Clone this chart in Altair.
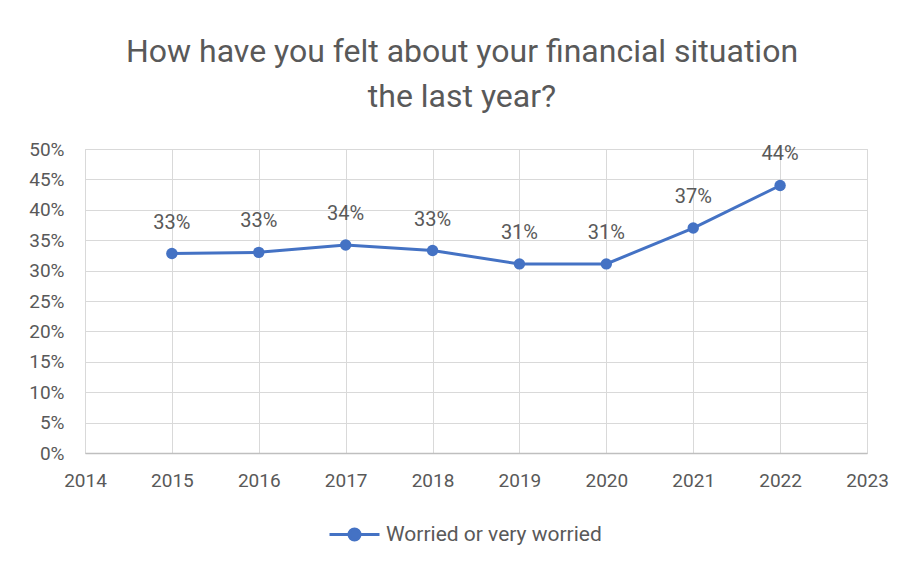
import altair as alt
import pandas as pd

years = [2015, 2016, 2017, 2018, 2019, 2020, 2021, 2022]
values = [0.328, 0.330, 0.342, 0.333, 0.311, 0.311, 0.370, 0.440]
series_name = "Worried or very worried"
title_lines = ["How have you felt about your financial situation", "the last year?"]
x_ticks = [2014, 2015, 2016, 2017, 2018, 2019, 2020, 2021, 2022, 2023]
y_ticks = [0, 0.05, 0.10, 0.15, 0.20, 0.25, 0.30, 0.35, 0.40, 0.45, 0.50]

df = pd.DataFrame({"year": years, "value": values, "series": [series_name] * len(years)})

BLUE = "#4472C4"
GREY = "#595959"
FONT = "Roboto"

x = alt.X("year:Q", scale=alt.Scale(domain=[2014, 2023], nice=False, zero=False),
          axis=alt.Axis(title=None, values=x_ticks, format="d", labelOverlap=False,
                        labelFlush=False, labelBound=False,
                        grid=True, gridColor="#D9D9D9", ticks=False, domainColor="#BFBFBF",
                        domainWidth=1.5, labelPadding=18, labelFontSize=19, labelColor=GREY,
                        labelFont=FONT))
y = alt.Y("value:Q", scale=alt.Scale(domain=[0, 0.5], nice=False),
          axis=alt.Axis(title=None, values=y_ticks, format=".0%", labelOverlap=False,
                        grid=True, gridColor="#D9D9D9", ticks=False, domain=False,
                        labelPadding=21, labelFontSize=19, labelColor=GREY, labelFont=FONT))

base = alt.Chart(df)

line = base.mark_line(color=BLUE, strokeWidth=3).encode(x=x, y=y)

points = base.mark_point(filled=True, size=130, opacity=1).encode(
    x=x, y=y,
    color=alt.Color("series:N", scale=alt.Scale(range=[BLUE]),
                    legend=alt.Legend(title=None, orient="none", legendX=243, legendY=359,
                                      symbolType="M-1,0H1M0.22,0A0.22,0.22 0 1,1 -0.22,0A0.22,0.22 0 1,1 0.22,0Z",
                                      symbolSize=2500, symbolStrokeColor=BLUE, symbolStrokeWidth=3,
                                      symbolFillColor=BLUE, labelFontSize=21, labelColor=GREY,
                                      labelFont=FONT, labelOffset=5, labelLimit=400)),
)

labels = base.mark_text(dy=-31, fontSize=20, color=GREY, font=FONT, baseline="middle").encode(
    x=x, y=y, text=alt.Text("value:Q", format=".0%"))

chart = alt.layer(line, points, labels).properties(
    width=782, height=304,
    title=alt.TitleParams(title_lines, fontSize=32, font=FONT, fontWeight="normal", color=GREY,
                          anchor="middle", dx=-14, offset=26, lineHeight=45),
    autosize=alt.AutoSizeParams(type="none"),
    padding={"left": 77, "top": 141, "right": 30, "bottom": 100},
).configure_view(stroke="#D9D9D9")

chart.save("out.html", embed_options={"renderer": "svg", "actions": False})
